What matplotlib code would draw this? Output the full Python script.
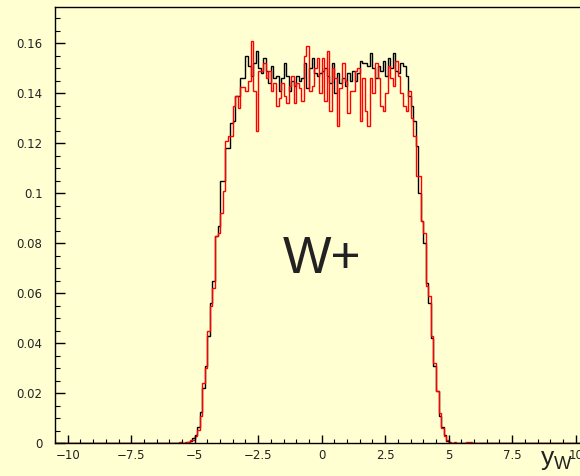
import numpy as np
import matplotlib.pyplot as plt
from matplotlib.ticker import MultipleLocator

# rapidity of the W+, two samples binned 0.1 wide over [-10.5, 10.5]
hist_lo, hist_hi, bin_width = -10.5, 10.5, 0.1

# only the filled part of the histograms is listed, it starts at y = -6.0
filled_start = -6.0
black_vals = [
    0, 0, 0, 0, 0, 0, 0.0002, 0.0004, 0.0008, 0.002,
    0.0035, 0.0065, 0.0125, 0.022, 0.031, 0.043, 0.056, 0.065, 0.083, 0.087,
    0.105, 0.105, 0.118, 0.118, 0.128, 0.129, 0.139, 0.139, 0.146, 0.146,
    0.155, 0.151, 0.147, 0.152, 0.157, 0.150, 0.148, 0.154, 0.149, 0.144,
    0.151, 0.146, 0.147, 0.141, 0.146, 0.152, 0.147, 0.141, 0.145, 0.143,
    0.147, 0.145, 0.146, 0.152, 0.142, 0.150, 0.154, 0.148, 0.147, 0.148,
    0.149, 0.150, 0.147, 0.144, 0.152, 0.140, 0.148, 0.144, 0.146, 0.143,
    0.148, 0.145, 0.149, 0.145, 0.148, 0.153, 0.152, 0.152, 0.151, 0.156,
    0.150, 0.146, 0.151, 0.149, 0.153, 0.147, 0.154, 0.150, 0.156, 0.149,
    0.148, 0.152, 0.151, 0.147, 0.139, 0.135, 0.129, 0.119, 0.100, 0.089,
    0.080, 0.064, 0.056, 0.042, 0.031, 0.021, 0.011, 0.0065, 0.0033, 0.001,
    0.0003, 0, 0, 0, 0, 0, 0, 0, 0, 0,
]
red_vals = [
    0, 0, 0.0003, 0.0002, 0.0006, 0, 0.0007, 0.0004, 0.0012, 0.0015,
    0.0028, 0.0055, 0.011, 0.024, 0.030, 0.045, 0.055, 0.062, 0.083, 0.084,
    0.092, 0.101, 0.121, 0.123, 0.123, 0.135, 0.139, 0.134, 0.1425, 0.1425,
    0.141, 0.145, 0.161, 0.141, 0.125, 0.149, 0.149, 0.152, 0.146, 0.149,
    0.141, 0.144, 0.135, 0.138, 0.144, 0.139, 0.136, 0.143, 0.147, 0.136,
    0.144, 0.142, 0.137, 0.155, 0.159, 0.141, 0.143, 0.150, 0.154, 0.140,
    0.154, 0.137, 0.157, 0.133, 0.150, 0.146, 0.127, 0.142, 0.152, 0.145,
    0.132, 0.141, 0.141, 0.149, 0.150, 0.129, 0.146, 0.133, 0.127, 0.146,
    0.140, 0.152, 0.146, 0.135, 0.133, 0.140, 0.151, 0.146, 0.143, 0.153,
    0.147, 0.140, 0.135, 0.133, 0.141, 0.130, 0.123, 0.107, 0.107, 0.089,
    0.084, 0.063, 0.059, 0.043, 0.032, 0.021, 0.012, 0.006, 0.003, 0.0012,
    0.0005, 0.0003, 0.0005, 0, 0, 0, 0, 0.0006, 0.0006, 0,
]

x_ticks = [-10, -7.5, -5, -2.5, 0, 2.5, 5, 7.5, 10]
x_ticklabels = ['\u221210', '\u22127.5', '\u22125', '\u22122.5', '0', '2.5', '5', '7.5', '10']
y_ticks = [0, 0.02, 0.04, 0.06, 0.08, 0.1, 0.12, 0.14, 0.16]
y_ticklabels = ['0', '0.02', '0.04', '0.06', '0.08', '0.1', '0.12', '0.14', '0.16']

bg = '#ffffd2'
ink = '#222222'


def full_hist(vals):
    n_bins = int(round((hist_hi - hist_lo) / bin_width))
    counts = np.zeros(n_bins)
    first = int(round((filled_start - hist_lo) / bin_width))
    counts[first:first + len(vals)] = vals
    edges = np.linspace(hist_lo, hist_hi, n_bins + 1)
    return counts, edges


fig = plt.figure(figsize=(5.8, 4.76), dpi=100, facecolor=bg)
# frame runs a little past the right border of the canvas
ax = fig.add_axes([55 / 580, 1 - 443.3 / 476, 533.4 / 580, 436.3 / 476])
ax.set_facecolor(bg)

for vals, col in [(black_vals, 'black'), (red_vals, 'red')]:
    counts, edges = full_hist(vals)
    ax.stairs(counts, edges, color=col, lw=1.0, baseline=0)

ax.set_xlim(hist_lo, hist_hi)
ax.set_ylim(0, 0.1745)

ax.set_xticks(x_ticks)
ax.set_xticklabels(x_ticklabels)
ax.set_yticks(y_ticks)
ax.set_yticklabels(y_ticklabels)
ax.xaxis.set_minor_locator(MultipleLocator(0.5))
ax.yaxis.set_minor_locator(MultipleLocator(0.005))

ax.tick_params(axis='x', which='major', direction='in', length=5.8, width=1.0,
               pad=4, labelsize=8.5, labelcolor=ink, top=False)
ax.tick_params(axis='x', which='minor', direction='in', length=3.0, width=0.8, top=False)
ax.tick_params(axis='y', which='major', direction='in', length=7.2, width=1.0,
               pad=9, labelsize=8.5, labelcolor=ink, right=False)
ax.tick_params(axis='y', which='minor', direction='in', length=3.6, width=0.8, right=False)

for side in ['left', 'bottom', 'top', 'right']:
    ax.spines[side].set_linewidth(1.0)

ax.text(-1.53, 0.068, 'W+', fontsize=37, color=ink, family='Liberation Sans',
        ha='left', va='baseline')
fig.text(540 / 580, 1 - 465 / 476, r'$\mathregular{y_W}$', fontsize=19, color=ink,
         family='Liberation Sans', ha='left', va='baseline')

fig.savefig('out.png', dpi=100, facecolor=bg)
